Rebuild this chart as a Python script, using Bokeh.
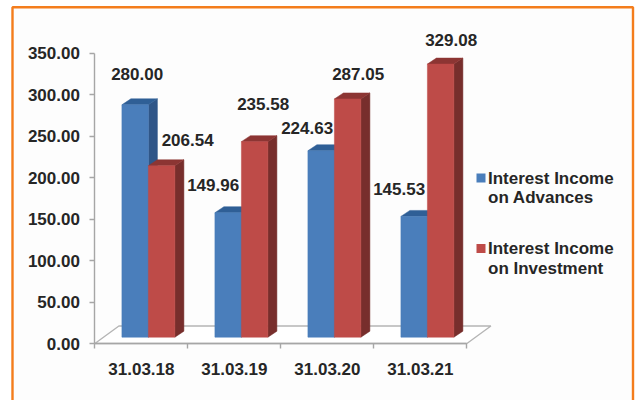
from bokeh.core.properties import value
from bokeh.embed import file_html
from bokeh.models import ColumnDataSource, FixedTicker, Range1d
from bokeh.plotting import figure
from bokeh.resources import INLINE

# Chart values
dates = ["31.03.18", "31.03.19", "31.03.20", "31.03.21"]
advances = [280.00, 149.96, 224.63, 145.53]
investment = [206.54, 235.58, 287.05, 329.08]
y_ticks = [0, 50, 100, 150, 200, 250, 300, 350]
series_names = [["Interest Income", "on Advances"], ["Interest Income", "on Investment"]]

# Canvas layout
W, H = 635, 400
AXIS_LEFT, AXIS_BOTTOM = 94.4, 343.0
CAT_PX = 93.0
UNIT_PX = 0.83
FONT = value("Liberation Sans")
TEXT_COLOR = "#262626"
AXIS_COLOR = "#a6a6a6"


def dx(px):
    return px / CAT_PX


def dy(px):
    return px / UNIT_PX


def sx(px):
    return (px - AXIS_LEFT) / CAT_PX


def sy(px):
    return (AXIS_BOTTOM - px) / UNIT_PX


p = figure(
    width=W, height=H, output_backend="svg", toolbar_location=None,
    x_range=Range1d(sx(0), sx(W)), y_range=Range1d(sy(H), sy(0)),
    min_border=0, min_border_left=0, min_border_right=0,
    min_border_top=0, min_border_bottom=0,
    outline_line_color=None, background_fill_color="white", border_fill_color="white",
)
p.grid.visible = False

# Chart frame, open past the bottom of the page
frame_x = [sx(12), sx(12), sx(632.5), sx(632.5)]
frame_y = [sy(430), sy(6.7), sy(6.7), sy(430)]
p.patch(frame_x, frame_y, fill_color="#fdfdfd", line_color=None)
p.line(frame_x, frame_y, line_color="#f47d1c", line_width=2.4)

# Floor of the 3D plot area
floor_dx, floor_dy = dx(24), dy(17.5)
p.patch(
    [0, floor_dx, 4 + floor_dx, 4], [0, floor_dy, floor_dy, 0],
    fill_color="white", line_color="#b5b5b5", line_width=1.4,
)

# Axes sit inside the full-canvas frame
xaxis = p.xaxis[0]
xaxis.fixed_location = 0
xaxis.bounds = (0, 4)
xaxis.ticker = FixedTicker(ticks=[i + 0.5 for i in range(len(dates))], minor_ticks=list(range(len(dates) + 1)))
xaxis.major_label_overrides = {i + 0.5: d for i, d in enumerate(dates)}
xaxis.major_tick_line_color = None
xaxis.major_tick_out = 0
xaxis.major_tick_in = 0
xaxis.minor_tick_out = 5
xaxis.minor_tick_in = 0
xaxis.minor_tick_line_color = AXIS_COLOR
xaxis.minor_tick_line_width = 1.4
xaxis.axis_line_color = AXIS_COLOR
xaxis.axis_line_width = 1.4
xaxis.major_label_standoff = 14
xaxis.major_label_text_font = "Liberation Sans"
xaxis.major_label_text_font_style = "bold"
xaxis.major_label_text_font_size = "17px"
xaxis.major_label_text_color = TEXT_COLOR

yaxis = p.yaxis[0]
yaxis.fixed_location = 0
yaxis.bounds = (0, 350)
yaxis.ticker = FixedTicker(ticks=y_ticks)
yaxis.major_label_overrides = {t: f"{t:.2f}" for t in y_ticks}
yaxis.minor_tick_line_color = None
yaxis.major_tick_out = 5
yaxis.major_tick_in = 0
yaxis.major_tick_line_color = AXIS_COLOR
yaxis.major_tick_line_width = 1.4
yaxis.axis_line_color = AXIS_COLOR
yaxis.axis_line_width = 1.4
yaxis.major_label_standoff = 10
yaxis.major_label_text_font = "Liberation Sans"
yaxis.major_label_text_font_style = "bold"
yaxis.major_label_text_font_size = "17px"
yaxis.major_label_text_color = TEXT_COLOR

# Extruded bars: front face, side face and top face
base = dy(6.3)
depth_x, depth_y = dx(9), dy(6)
bar_w = dx(26.5)


def draw_series(values, start, front, side, top):
    for i, v in enumerate(values):
        x0 = i + start
        x1 = x0 + bar_w
        y0 = base
        y1 = base + v
        p.patch([x1, x1 + depth_x, x1 + depth_x, x1],
                [y0, y0 + depth_y, y1 + depth_y, y1], fill_color=side, line_color=side, line_width=0.5)
        p.patch([x0, x1, x1 + depth_x, x0 + depth_x],
                [y1, y1, y1 + depth_y, y1 + depth_y], fill_color=top, line_color=top, line_width=0.5)
        p.quad(left=x0, right=x1, bottom=y0, top=y1, fill_color=front, line_color=front, line_width=0.5)


blue_start = dx(27)
red_start = blue_start + bar_w
draw_series(advances, blue_start, "#4a7ebb", "#2f5688", "#2f5f96")
draw_series(investment, red_start, "#be4b48", "#772e2c", "#8c3533")

# Value labels, placed by hand around the bars
blue_offsets = [(2, -30.6), (-15, -27.5), (-14, -23), (-15, -27)]
red_offsets = [(26, -25.6), (8.5, -37.5), (10.5, -24.7), (10.5, -24)]


def value_labels(values, start, offsets):
    src = ColumnDataSource(dict(
        x=[i + start + bar_w / 2 for i in range(len(values))],
        y=[base + v for v in values],
        t=[f"{v:.2f}" for v in values],
        ox=[o[0] for o in offsets],
        oy=[o[1] for o in offsets],
    ))
    p.text("x", "y", text="t", x_offset="ox", y_offset="oy", source=src,
           text_font=FONT, text_font_style="bold", text_font_size="17px",
           text_color=TEXT_COLOR, text_align="center", text_baseline="middle")


value_labels(advances, blue_start, blue_offsets)
value_labels(investment, red_start, red_offsets)

# Legend with two-line entries
legend_rows = [(177.5, "#4a7ebb"), (248, "#be4b48")]
for (row_y, color), lines in zip(legend_rows, series_names):
    p.rect([sx(480.5)], [sy(row_y)], width=dx(9), height=dy(9), fill_color=color, line_color=None)
    p.text([sx(487.5)] * 2, [sy(row_y), sy(row_y + 19.7)], text=lines,
           text_font=FONT, text_font_style="bold", text_font_size="17px",
           text_color=TEXT_COLOR, text_align="left", text_baseline="middle")

open("out.html", "w").write(file_html(p, INLINE))
